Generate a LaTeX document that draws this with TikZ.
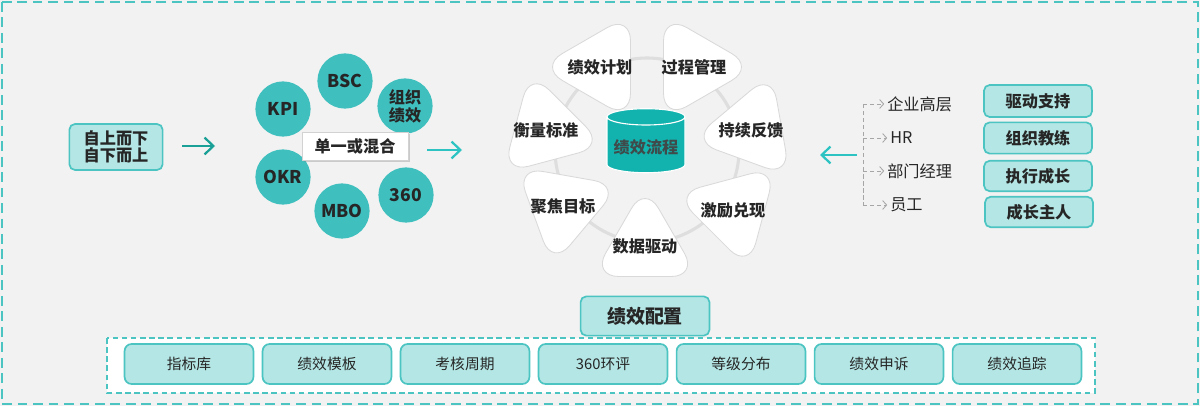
\documentclass[tikz,border=0pt]{standalone}
\usepackage{fontspec}
\setmainfont{Noto Sans CJK SC}
\usetikzlibrary{arrows.meta,positioning,shapes.geometric,shadows}

\definecolor{bggray}{HTML}{F2F2F2}
\definecolor{tealc}{HTML}{40BFBF}
\definecolor{tealfill}{HTML}{B3E6E4}
\definecolor{tealline}{HTML}{4CC4C2}
\definecolor{arrowdark}{HTML}{1AA096}
\definecolor{arrowlite}{HTML}{2EC3C3}
\definecolor{cylfill}{HTML}{12B3AE}
\definecolor{txtdark}{HTML}{262626}
\definecolor{txtgray}{HTML}{3F4A4A}
\definecolor{ringgray}{HTML}{DEDEDE}
\definecolor{petalline}{HTML}{D9D9D9}
\definecolor{rolegray}{HTML}{A6A6A6}

\begin{document}
\begin{tikzpicture}[x=0.025cm,y=-0.025cm]
\tikzset{
  method/.style={circle,fill=tealc,minimum size=1.38cm,inner sep=0pt,align=center,
    font=\bfseries\fontsize{12.5pt}{14pt}\selectfont,text=txtdark},
  petal/.style={regular polygon,regular polygon sides=3,fill=white,draw=petalline,line width=0.6pt,
    minimum size=3.05cm,rounded corners=19pt,inner sep=0pt,
    label={[font=\bfseries\fontsize{11.5pt}{13pt}\selectfont,text=txtdark]center:#1}},
  tagbox/.style={rectangle,rounded corners=4pt,fill=tealfill,draw=tealline,line width=1.2pt,align=center,
    font=\bfseries\fontsize{11.5pt}{13pt}\selectfont,text=txtdark},
  cfgbox/.style={rectangle,rounded corners=5pt,fill=tealfill,draw=tealline,line width=1.2pt,
    minimum width=3.22cm,minimum height=1cm,font=\fontsize{10.5pt}{12pt}\selectfont,text=txtdark},
  thickarrow/.style={-{Straight Barb[length=2.2mm,width=4.2mm]},line width=1.6pt},
  rolearrow/.style={densely dashed,draw=rolegray,line width=0.6pt,-{Straight Barb[length=1mm,width=2.2mm]}},
  rolelabel/.style={anchor=west,inner sep=0pt,font=\fontsize{11.5pt}{13pt}\selectfont,text=txtdark}
}
\useasboundingbox (0,0) rectangle (1200,406);
\fill[bggray] (0,0) rectangle (1200,406);
\draw[tealline,line width=2pt,dash pattern=on 7pt off 4pt] (2,2) rectangle (1198,404);

% left: direction
\node[tagbox,minimum width=2.33cm,minimum height=1.15cm,font=\bfseries\fontsize{11.5pt}{12.5pt}\selectfont] (n_dir) at (116,147) {自上而下\\自下而上};
\coordinate (a1_s) at (182,146);
\coordinate (a1_e) at (215,146);
\draw[thickarrow,arrowdark] (a1_s) -- (a1_e);

% methods
\node[method] (n_bsc) at (345,81) {BSC};
\node[method] (n_kpi) at (283,109) {KPI};
\node[method,font=\bfseries\fontsize{11.5pt}{13pt}\selectfont] (n_org) at (405,106) {组织\\绩效};
\node[method] (n_okr) at (283,177) {OKR};
\node[method] (n_mbo) at (342,211) {MBO};
\node[method] (n_360) at (406,195) {360};
\node[rectangle,fill=white,draw=gray!35,minimum width=2.65cm,minimum height=0.7cm,
  drop shadow={shadow xshift=1.2pt,shadow yshift=-1.2pt,opacity=0.35},
  font=\bfseries\fontsize{11.5pt}{13pt}\selectfont,text=txtdark] (n_mix) at (355,146) {单一或混合};
\coordinate (a2_s) at (427,150);
\coordinate (a2_e) at (462,150);
\draw[thickarrow,arrowlite] (a2_s) -- (a2_e);

% process cycle
\draw[ringgray,line width=2.2pt] (647,150) circle[radius=92];
\node[petal=绩效计划,shape border rotate=90] (n_plan) at (600,67) {};
\node[petal=过程管理,shape border rotate=-90] (n_proc) at (694,67) {};
\node[petal=持续反馈,shape border rotate=100] (n_feed) at (751,130) {};
\node[petal=激励兑现,shape border rotate=195] (n_inc) at (733,210) {};
\node[petal=数据驱动] (n_data) at (645,246) {};
\node[petal=聚焦目标,shape border rotate=170] (n_goal) at (563,206) {};
\node[petal=衡量标准,shape border rotate=15] (n_meas) at (546,130) {};
\node[cylinder,shape border rotate=90,aspect=0.22,minimum width=1.95cm,minimum height=1.6cm,
  draw=white,line width=0.8pt,cylinder uses custom fill,cylinder body fill=cylfill,cylinder end fill=cylfill,
  font=\bfseries\fontsize{11.5pt}{13pt}\selectfont,text=txtgray] (n_flow) at (646,147) {绩效流程};

% roles
\coordinate (a3_s) at (857,155);
\coordinate (a3_e) at (820,155);
\draw[thickarrow,arrowlite] (a3_s) -- (a3_e);
\node[rolelabel] (n_exec) at (887,104) {企业高层};
\node[rolelabel] (n_hr) at (890,138) {HR};
\node[rolelabel] (n_mgr) at (887,171) {部门经理};
\node[rolelabel] (n_staff) at (890,205) {员工};
\coordinate (br_top) at (863,104);
\coordinate (br_bot) at (863,205);
\draw[rolegray,densely dashed,line width=0.6pt] (br_top) -- (br_bot);
\foreach \r in {exec,hr,mgr,staff}
  \draw[rolearrow] (br_top |- n_\r.west) -- ([xshift=-2pt]n_\r.west);

\node[tagbox,minimum width=2.7cm,minimum height=0.8cm] (n_drive) at (1038,101) {驱动支持};
\node[tagbox,minimum width=2.7cm,minimum height=0.78cm] (n_coach) at (1038,138) {组织教练};
\node[tagbox,minimum width=2.7cm,minimum height=0.76cm] (n_act) at (1038,176) {执行成长};
\node[tagbox,minimum width=2.7cm,minimum height=0.76cm] (n_own) at (1039,212) {成长主人};

% configuration
\draw[fill=white,draw=tealline,line width=0.9pt,dash pattern=on 4pt off 2.5pt] (107,338) rectangle (1095,393);
\node[tagbox,minimum width=3.22cm,minimum height=0.98cm,font=\bfseries\fontsize{13.5pt}{15pt}\selectfont] (n_cfg) at (645,316) {绩效配置};
\foreach \lbl [count=\i] in {指标库,绩效模板,考核周期,360环评,等级分布,绩效申诉,绩效追踪}
  \node[cfgbox] (n_cfg_\i) at ({189+138*(\i-1)},364) {\lbl};
\end{tikzpicture}
\end{document}
